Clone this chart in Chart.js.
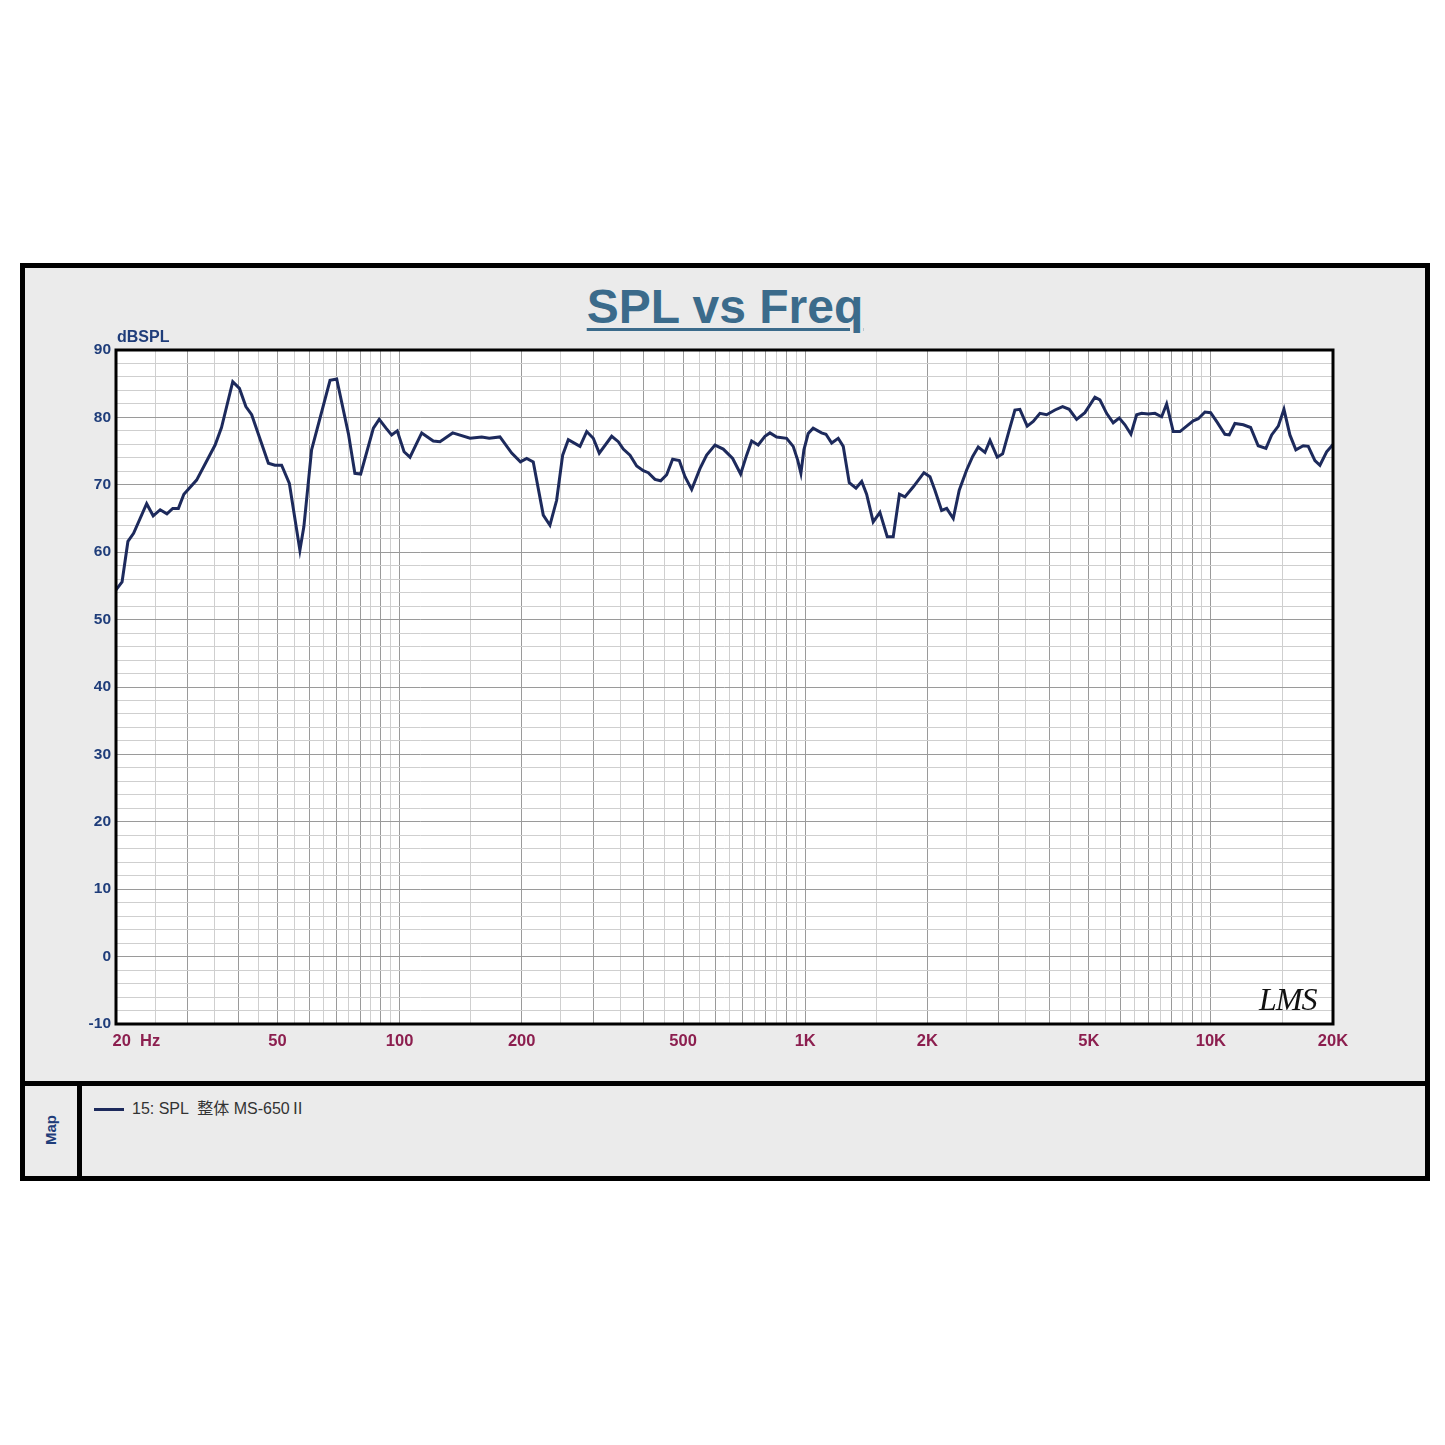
<!DOCTYPE html>
<html><head><meta charset="utf-8">
<script src="https://cdn.jsdelivr.net/npm/chart.js@4"></script>
<style>
html,body{margin:0;padding:0;background:#fff;}
body{width:1445px;height:1445px;position:relative;overflow:hidden;font-family:"Liberation Sans",Arial,sans-serif;}
#frame{position:absolute;left:20px;top:263px;width:1410px;height:918px;box-sizing:border-box;border:5px solid #000;background:#ebebeb;}
#hdiv{position:absolute;left:20px;top:1081px;width:1410px;height:5px;background:#000;}
#vdiv{position:absolute;left:77px;top:1081px;width:5px;height:100px;background:#000;}
#title{position:absolute;left:20px;width:1410px;top:283px;text-align:center;font:bold 48px/48px "Liberation Sans",Arial,sans-serif;color:#3b6b8b;}
#title span{text-decoration:underline;text-decoration-thickness:3px;text-underline-offset:5px;}
#chart{position:absolute;left:25px;top:268px;}
#map{position:absolute;left:50px;top:1130px;transform:translate(-50%,-50%) rotate(-90deg);font:bold 15px/15px "Liberation Sans",Arial,sans-serif;color:#1f3d7a;white-space:nowrap;}
#legline{position:absolute;left:94px;top:1108px;width:30px;height:3px;background:#1d2a5c;}
#legtext{position:absolute;left:132px;top:1101px;font:16px/16px "Liberation Sans",Arial,"Noto Sans CJK SC",sans-serif;color:#333;white-space:pre;}
#lms{position:absolute;left:1259px;top:983px;font:italic 32px/32px "Liberation Serif","DejaVu Serif",serif;color:#111;letter-spacing:-1px;}
</style>
</head>
<body>
<div id="frame"></div>
<div id="hdiv"></div>
<div id="vdiv"></div>
<div id="title"><span>SPL vs Freq</span></div>
<canvas id="chart" width="1400" height="813"></canvas>
<div id="lms">LMS</div>
<div id="map">Map</div>
<div id="legline"></div>
<div id="legtext">15: SPL  整体 MS-650Ⅱ</div>
<script>
// ---- data ----
const freqs = [20, 20.7, 21.4, 22.1, 23.8, 24.7, 25.7, 26.7, 27.6, 28.5,
  29.4, 31.6, 35.1, 36.4, 38.8, 40.3, 41.8, 43.2, 47.5, 49.3,
  51.2, 53.5, 56.8, 58.1, 60.7, 67.4, 70.0, 74.8, 77.6, 80.2,
  86.2, 89.1, 92.6, 95.6, 98.7, 102.6, 106.1, 113.4, 121.1, 125.8,
  135.2, 149.2, 159.4, 166.4, 176.8, 189, 198.6, 205.8, 213.6, 226.1,
  234.8, 243.9, 252.4, 260.6, 278.5, 289.3, 300.3, 310.7, 333.4, 346.1,
  356.1, 369.9, 384.2, 398.9, 410.3, 426.2, 440.2, 455.5, 471.2, 489.3,
  505.4, 524.9, 550.2, 571.5, 599.1, 628, 662.4, 693.1, 717.1, 737.8,
  765.9, 795.6, 818.5, 850.2, 899.8, 934.1, 957.8, 975.8, 992.6, 1017,
  1046, 1097, 1125, 1162, 1206, 1241, 1284, 1334, 1378, 1417,
  1471, 1528, 1593, 1648, 1707, 1761, 1847, 1962, 2030, 2088,
  2169, 2232, 2317, 2397, 2500, 2587, 2670, 2774, 2854, 2974,
  3067, 3166, 3288, 3382, 3526, 3648, 3790, 3937, 4127, 4310,
  4475, 4667, 4891, 5178, 5327, 5533, 5744, 5944, 6140, 6351,
  6561, 6750, 7008, 7279, 7561, 7779, 8077, 8390, 8715, 9048,
  9308, 9669, 9986, 10330, 10830, 11100, 11460, 12020, 12530, 13080,
  13670, 14120, 14660, 15140, 15660, 16200, 16890, 17380, 18050, 18570,
  19290, 20000];
const spl = [54.4, 55.6, 61.6, 62.8, 67.2, 65.4, 66.3, 65.7, 66.5, 66.5,
  68.6, 70.7, 75.9, 78.5, 85.3, 84.3, 81.6, 80.4, 73.2, 72.9,
  72.9, 70.2, 60.3, 63.8, 75.2, 85.5, 85.7, 77.6, 71.7, 71.6,
  78.4, 79.7, 78.4, 77.4, 78.0, 74.9, 74.1, 77.7, 76.5, 76.4,
  77.7, 76.9, 77.1, 76.9, 77.1, 74.7, 73.4, 73.9, 73.4, 65.5,
  64.0, 67.7, 74.4, 76.7, 75.7, 77.9, 76.9, 74.7, 77.2, 76.4,
  75.3, 74.4, 72.8, 72.1, 71.8, 70.8, 70.6, 71.5, 73.8, 73.6,
  71.2, 69.3, 72.4, 74.4, 75.9, 75.3, 73.9, 71.6, 74.4, 76.5,
  75.9, 77.2, 77.7, 77.1, 76.9, 75.7, 73.7, 71.7, 75.2, 77.6,
  78.4, 77.7, 77.5, 76.2, 76.9, 75.7, 70.3, 69.5, 70.5, 68.6,
  64.5, 65.9, 62.3, 62.3, 68.6, 68.2, 69.7, 71.8, 71.2, 69.2,
  66.2, 66.5, 65.0, 69.2, 72.2, 74.2, 75.6, 74.8, 76.6, 74.1,
  74.6, 77.6, 81.1, 81.2, 78.7, 79.4, 80.6, 80.4, 81.1, 81.6,
  81.2, 79.7, 80.7, 83.0, 82.6, 80.6, 79.2, 79.9, 78.9, 77.5,
  80.4, 80.6, 80.5, 80.6, 80.1, 82.0, 77.9, 77.9, 78.7, 79.5,
  79.8, 80.8, 80.7, 79.4, 77.5, 77.4, 79.1, 78.9, 78.5, 75.8,
  75.4, 77.4, 78.7, 81.2, 77.4, 75.2, 75.8, 75.7, 73.6, 72.9,
  74.9, 76.0];
const xLabelValues = [20, 50, 100, 200, 500, 1000, 2000, 5000, 10000, 20000];
const xLabelTexts = ['20  Hz', '50', '100', '200', '500', '1K', '2K', '5K', '10K', '20K'];
const yMin = -10, yMax = 90, yStep = 2, yLabelStep = 10;
const yAxisTitle = 'dBSPL';

// grid lines: every half step of each decade
const xGrid = [];
for (const b of [10, 100, 1000, 10000]) {
  for (let m = 1; m < 10; m += 0.5) { const f = m * b; if (f >= 20 && f <= 20000) xGrid.push(f); }
}
xGrid.push(20000);
const yGrid = [];
for (let v = yMin; v <= yMax; v += yStep) yGrid.push(v);

const isMajorX = v => { const m = v / Math.pow(10, Math.floor(Math.log10(v) + 1e-9)); return Math.abs(m - Math.round(m)) < 1e-6; };
const GRID_DARK = '#9a9a9a', GRID_LIGHT = '#cfcfcf';

Chart.defaults.font.family = '"Liberation Sans", Arial, sans-serif';

const framePlugin = {
  id: 'framePlugin',
  beforeDraw(chart) {
    const { ctx, chartArea: a } = chart;
    ctx.save();
    ctx.fillStyle = '#ffffff';
    ctx.fillRect(a.left, a.top, a.right - a.left, a.bottom - a.top);
    ctx.restore();
  },
  afterDraw(chart) {
    const { ctx, chartArea: a } = chart;
    ctx.save();
    ctx.strokeStyle = '#000';
    ctx.lineWidth = 3;
    ctx.strokeRect(a.left, a.top, a.right - a.left, a.bottom - a.top);
    // x labels
    const xs = chart.scales.x;
    ctx.font = 'bold 16.5px "Liberation Sans", Arial, sans-serif';
    ctx.fillStyle = '#8c1f4f';
    ctx.textBaseline = 'alphabetic';
    xLabelValues.forEach((v, i) => {
      const px = xs.getPixelForValue(v);
      if (i === 0) { ctx.textAlign = 'left'; ctx.fillText(xLabelTexts[i], px - 3.5, a.bottom + 22); }
      else { ctx.textAlign = 'center'; ctx.fillText(xLabelTexts[i], px, a.bottom + 22); }
    });
    // y axis title
    ctx.font = 'bold 16px "Liberation Sans", Arial, sans-serif';
    ctx.fillStyle = '#1f3d7a';
    ctx.textAlign = 'left';
    ctx.fillText(yAxisTitle, a.left + 1, a.top - 8.5);
    ctx.restore();
  }
};

new Chart(document.getElementById('chart'), {
  type: 'line',
  data: {
    datasets: [{
      data: freqs.map((f, i) => ({ x: f, y: spl[i] })),
      borderColor: '#1d2a5c',
      borderWidth: 3,
      pointRadius: 0,
      tension: 0,
      fill: false
    }]
  },
  options: {
    responsive: false,
    animation: false,
    layout: { padding: { top: 82, right: 92, left: 0, bottom: 0 } },
    plugins: { legend: { display: false }, tooltip: { enabled: false }, title: { display: false } },
    scales: {
      x: {
        type: 'logarithmic', min: 20, max: 20000,
        afterBuildTicks: s => { s.ticks = xGrid.map(v => ({ value: v })); },
        afterFit: s => { s.height = 57; },
        ticks: { display: false },
        border: { display: false },
        grid: { drawTicks: false, lineWidth: 1, color: c => (c.tick && isMajorX(c.tick.value)) ? GRID_DARK : GRID_LIGHT }
      },
      y: {
        type: 'linear', min: yMin, max: yMax,
        afterBuildTicks: s => { s.ticks = yGrid.map(v => ({ value: v })); },
        afterFit: s => { s.width = 91; },
        ticks: {
          autoSkip: false, padding: 5,
          color: '#1f3d7a',
          font: { size: 15.5, weight: 'bold' },
          callback: v => (v % yLabelStep === 0) ? String(v) : ''
        },
        border: { display: false },
        grid: { drawTicks: false, lineWidth: 1, color: c => (c.tick && c.tick.value % yLabelStep === 0) ? GRID_DARK : GRID_LIGHT }
      }
    }
  },
  plugins: [framePlugin]
});
</script>
</body></html>
